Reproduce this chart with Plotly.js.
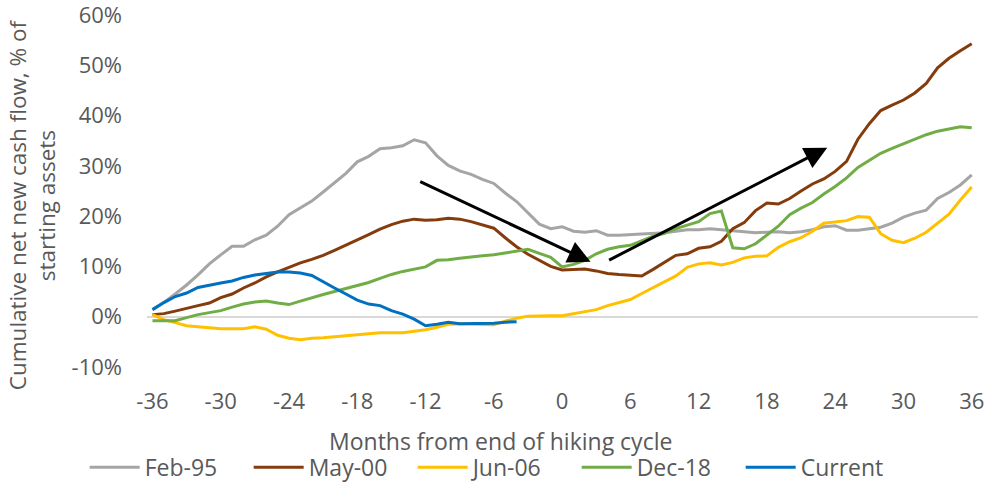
<!DOCTYPE html>
<html>
<head>
<meta charset="utf-8">
<script src="https://cdn.plot.ly/plotly-3.0.1.min.js"></script>
<style>
  html, body { margin: 0; padding: 0; background: #fff; }
  #plot { width: 988px; height: 482px; }
</style>
</head>
<body>
<div id="plot"></div>
<script>
// months from end of hiking cycle
const months = [];
for (let m = -36; m <= 36; m++) months.push(m);

// cumulative net new cash flow, % of starting assets
const feb95 = [1.4, 2.8, 4.5, 6.3, 8.3, 10.5, 12.3, 14.0, 14.0, 15.3, 16.2, 18.0, 20.3, 21.6, 23.0, 24.8, 26.6, 28.5, 30.8, 31.9, 33.4, 33.6, 34.0, 35.2, 34.6, 32.0, 30.1, 29.0, 28.3, 27.3, 26.5, 24.6, 22.9, 20.6, 18.4, 17.5, 17.9, 17.0, 16.8, 17.1, 16.2, 16.2, 16.3, 16.4, 16.5, 16.7, 17.0, 17.3, 17.3, 17.5, 17.3, 17.1, 16.9, 16.7, 16.8, 16.9, 16.7, 16.9, 17.3, 17.9, 18.1, 17.2, 17.2, 17.5, 17.8, 18.6, 19.8, 20.6, 21.2, 23.5, 24.7, 26.2, 28.2];
const may00 = [0.4, 0.6, 1.1, 1.7, 2.2, 2.7, 3.8, 4.5, 5.7, 6.7, 7.9, 8.9, 9.8, 10.7, 11.4, 12.2, 13.2, 14.2, 15.3, 16.3, 17.4, 18.3, 19.0, 19.4, 19.2, 19.3, 19.6, 19.4, 18.9, 18.2, 17.6, 15.7, 13.9, 12.4, 11.2, 10.0, 9.3, 9.4, 9.5, 9.1, 8.6, 8.4, 8.3, 8.1, 9.4, 10.8, 12.2, 12.5, 13.6, 13.9, 15.0, 17.5, 18.7, 21.1, 22.6, 22.4, 23.5, 25.0, 26.4, 27.4, 28.9, 30.9, 35.3, 38.4, 41.0, 42.1, 43.1, 44.5, 46.4, 49.5, 51.4, 52.9, 54.3];
const jun06 = [0.4, -0.6, -1.2, -1.8, -2.0, -2.2, -2.4, -2.4, -2.4, -2.0, -2.5, -3.7, -4.3, -4.6, -4.3, -4.2, -4.0, -3.8, -3.6, -3.4, -3.2, -3.2, -3.2, -2.9, -2.6, -2.1, -1.5, -1.4, -1.5, -1.5, -1.6, -0.9, -0.3, 0.1, 0.2, 0.2, 0.2, 0.6, 1.0, 1.4, 2.2, 2.8, 3.4, 4.6, 5.8, 7.0, 8.1, 9.8, 10.5, 10.7, 10.3, 10.8, 11.7, 12.0, 12.1, 13.8, 14.9, 15.7, 17.0, 18.6, 18.9, 19.1, 19.9, 19.8, 16.5, 15.2, 14.7, 15.6, 16.8, 18.6, 20.4, 23.2, 25.8];
const dec18 = [-0.8, -0.8, -0.8, -0.2, 0.4, 0.8, 1.2, 1.9, 2.5, 2.9, 3.1, 2.7, 2.4, 3.1, 3.8, 4.4, 5.0, 5.6, 6.2, 6.8, 7.6, 8.4, 9.0, 9.5, 9.9, 11.2, 11.3, 11.6, 11.9, 12.1, 12.3, 12.7, 13.1, 13.4, 12.6, 11.8, 9.9, 10.4, 11.2, 12.5, 13.4, 13.9, 14.2, 15.1, 16.0, 16.6, 17.5, 18.2, 18.9, 20.5, 21.0, 13.7, 13.5, 14.5, 16.2, 18.0, 20.3, 21.6, 22.7, 24.4, 25.9, 27.6, 29.7, 31.1, 32.5, 33.5, 34.4, 35.2, 36.2, 36.9, 37.3, 37.8, 37.6];
const current = [1.4, 2.8, 4.0, 4.7, 5.8, 6.3, 6.7, 7.1, 7.8, 8.3, 8.6, 8.9, 8.9, 8.7, 8.2, 6.9, 5.7, 4.5, 3.3, 2.5, 2.2, 1.2, 0.5, -0.5, -1.8, -1.5, -1.1, -1.4, -1.4, -1.3, -1.3, -1.1, -1.0];

const seriesNames = ['Feb-95', 'May-00', 'Jun-06', 'Dec-18', 'Current'];
const seriesColors = ['#a5a5a5', '#843c0c', '#ffc000', '#70ad47', '#0070c0'];
const seriesValues = [feb95, may00, jun06, dec18, current];

const xTicks = [-36, -30, -24, -18, -12, -6, 0, 6, 12, 18, 24, 30, 36];
const yTicks = [-10, 0, 10, 20, 30, 40, 50, 60];

// arrows: [from month, from %, to month, to %]
const arrows = [
    [-12.6, 27.0, 2.5, 10.9],
    [4.0, 11.1, 23.3, 33.6]
];

const font = 'Open Sans, Segoe UI, sans-serif';
const textColor = '#595959';

const traces = seriesValues.map((vals, i) => ({
    x: months.slice(0, vals.length),
    y: vals,
    mode: 'lines',
    name: seriesNames[i],
    line: { color: seriesColors[i], width: 3 },
    hoverinfo: 'skip'
}));

const annotations = arrows.map(a => ({
    x: a[2], y: a[3], ax: a[0], ay: a[1],
    xref: 'x', yref: 'y', axref: 'x', ayref: 'y',
    text: '', showarrow: true,
    arrowhead: 2, arrowsize: 1.5, arrowwidth: 3, arrowcolor: '#000'
}));

annotations.push({
    xref: 'paper', yref: 'paper', x: 0.425, y: -0.211,
    xanchor: 'center', yanchor: 'middle', showarrow: false,
    text: 'Months from end of hiking cycle',
    font: { family: font, size: 23, color: textColor }
});
annotations.push({
    xref: 'paper', yref: 'paper', x: -0.139, y: 0.461,
    xanchor: 'center', yanchor: 'middle', showarrow: false,
    textangle: -90,
    text: 'Cumulative net new cash flow, % of<br>starting assets',
    font: { family: font, size: 22.5, color: textColor }
});

const layout = {
    width: 988,
    height: 482,
    margin: { l: 147, r: 10, t: 15, b: 114.5, autoexpand: false },
    paper_bgcolor: '#fff',
    plot_bgcolor: '#fff',
    showlegend: true,
    legend: {
        orientation: 'h',
        x: -0.075, xanchor: 'left',
        y: -0.285, yanchor: 'middle',
        font: { family: font, size: 23, color: textColor },
        entrywidth: 99,
        entrywidthmode: 'pixels',
        itemwidth: 50
    },
    xaxis: {
        range: [-36.48, 36.55],
        tickvals: xTicks,
        ticktext: xTicks.map(String),
        showgrid: false,
        zeroline: false,
        showline: false,
        ticks: '',
        ticklabelstandoff: 19,
        ticklabeloverflow: 'allow',
        tickfont: { family: font, size: 22, color: textColor },
        fixedrange: true
    },
    yaxis: {
        range: [-10.02, 60.02],
        tickvals: yTicks,
        ticktext: yTicks.map(v => v + '%'),
        showgrid: false,
        zeroline: true,
        zerolinecolor: '#d9d9d9',
        zerolinewidth: 2,
        showline: false,
        ticks: '',
        ticklabelstandoff: 24,
        ticklabeloverflow: 'allow',
        tickfont: { family: font, size: 22, color: textColor },
        fixedrange: true
    },
    annotations: annotations
};

Plotly.newPlot('plot', traces, layout, { displayModeBar: false, staticPlot: true });
</script>
</body>
</html>
